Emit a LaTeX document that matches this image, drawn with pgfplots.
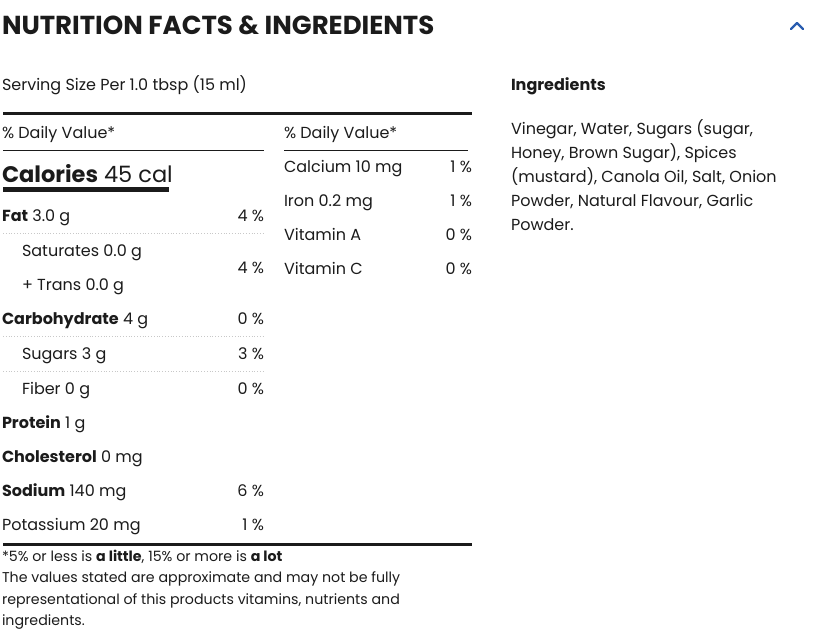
\documentclass[border=0pt]{standalone}
\usepackage{fontspec}
\setmainfont{Poppins}
\usepackage{pgfplots}
\usepackage{pgfplotstable}
\pgfplotsset{compat=1.18}
\definecolor{ink}{HTML}{1B1B1B}
\definecolor{chev}{HTML}{2A5DB0}
\definecolor{dots}{HTML}{C8C8C8}
\newcommand{\bodyf}{\fontsize{16bp}{19bp}\selectfont}
\newcommand{\footf}{\fontsize{14.2bp}{17bp}\selectfont}
\pgfplotstableread{
x y v
264 221 4
264 273 4
264 324 0
264 359 3
264 394 0
264 496 6
264 530 1
472 172 1
472 206 1
472 240 0
472 274 0
}\dvtable
\begin{document}
\begin{tikzpicture}[t/.style={anchor=base west, inner sep=0pt, outer sep=0pt, text=ink}]
\begin{axis}[scale only axis, width=819bp, height=636bp,
  xmin=0, xmax=819, ymin=0, ymax=636, y dir=reverse,
  axis lines=none, clip=false,
  /pgf/number format/assume math mode=true]
\draw[draw=none] (axis cs:0,0) rectangle (axis cs:819,636);
% title
\node[t, font=\fontsize{26bp}{30bp}\selectfont\bfseries] at (axis cs:2,35) {NUTRITION FACTS \& INGREDIENTS};
\draw[chev, line width=2.2bp, line cap=round, line join=round] (axis cs:791,29) -- (axis cs:797,23) -- (axis cs:803,29);
% serving
\node[t, font=\bodyf] at (axis cs:2,91) {Serving Size Per 1.0 tbsp (15 ml)};
\node[t, font=\bodyf\bfseries] at (axis cs:511,91) {Ingredients};
% rules
\draw[ink, line width=3bp] (axis cs:3,114) -- (axis cs:472,114);
\node[t, font=\bodyf] at (axis cs:2,138) {\% Daily Value*};
\node[t, font=\bodyf] at (axis cs:284,138) {\% Daily Value*};
\draw[ink, line width=1bp] (axis cs:3,150.5) -- (axis cs:264,150.5);
\draw[ink, line width=1bp] (axis cs:284,150.5) -- (axis cs:468,150.5);
% calories
\node[t, font=\fontsize{22.5bp}{26bp}\selectfont] at (axis cs:2,182) {\textbf{Calories} 45 cal};
\draw[ink, line width=4.5bp] (axis cs:3,189.5) -- (axis cs:169,189.5);
% left rows
\node[t, font=\bodyf] at (axis cs:2,221) {\textbf{Fat} 3.0 g};
\draw[dots, line width=0.8bp, dotted] (axis cs:3,233) -- (axis cs:264,233);
\node[t, font=\bodyf] at (axis cs:22,256) {Saturates 0.0 g};
\node[t, font=\bodyf] at (axis cs:22,290) {+ Trans 0.0 g};
\node[t, font=\bodyf] at (axis cs:2,324) {\textbf{Carbohydrate} 4 g};
\draw[dots, line width=0.8bp, dotted] (axis cs:3,336) -- (axis cs:264,336);
\node[t, font=\bodyf] at (axis cs:22,359) {Sugars 3 g};
\draw[dots, line width=0.8bp, dotted] (axis cs:3,371) -- (axis cs:264,371);
\node[t, font=\bodyf] at (axis cs:22,394) {Fiber 0 g};
\node[t, font=\bodyf] at (axis cs:2,428) {\textbf{Protein} 1 g};
\node[t, font=\bodyf] at (axis cs:2,462) {\textbf{Cholesterol} 0 mg};
\node[t, font=\bodyf] at (axis cs:2,496) {\textbf{Sodium} 140 mg};
\node[t, font=\bodyf] at (axis cs:2,530) {Potassium 20 mg};
% right rows
\node[t, font=\bodyf] at (axis cs:284,172) {Calcium 10 mg};
\node[t, font=\bodyf] at (axis cs:284,206) {Iron 0.2 mg};
\node[t, font=\bodyf] at (axis cs:284,240) {Vitamin A};
\node[t, font=\bodyf] at (axis cs:284,274) {Vitamin C};
% percentages from data
\addplot[draw=none, mark=none, point meta=explicit,
  nodes near coords={\pgfmathprintnumber{\pgfplotspointmeta}~\%},
  every node near coord/.append style={anchor=base east, font=\bodyf, text=ink, inner sep=0pt, outer sep=0pt}]
  table[x=x, y=y, meta=v] {\dvtable};
% bottom rule and footnote
\draw[ink, line width=3bp] (axis cs:3,544.5) -- (axis cs:472,544.5);
\node[t, font=\footf] at (axis cs:2,561.5) {*5\% or less is \textbf{a little}, 15\% or more is \textbf{a lot}};
\node[t, font=\footf] at (axis cs:2,582.5) {The values stated are approximate and may not be fully};
\node[t, font=\footf] at (axis cs:2,604) {representational of this products vitamins, nutrients and};
\node[t, font=\footf] at (axis cs:2,625.5) {ingredients.};
% ingredients text
\node[t, font=\bodyf] at (axis cs:511,134) {Vinegar, Water, Sugars (sugar,};
\node[t, font=\bodyf] at (axis cs:511,158) {Honey, Brown Sugar), Spices};
\node[t, font=\bodyf] at (axis cs:511,182) {(mustard), Canola Oil, Salt, Onion};
\node[t, font=\bodyf] at (axis cs:511,206) {Powder, Natural Flavour, Garlic};
\node[t, font=\bodyf] at (axis cs:511,230) {Powder.};
\end{axis}
\end{tikzpicture}
\end{document}
